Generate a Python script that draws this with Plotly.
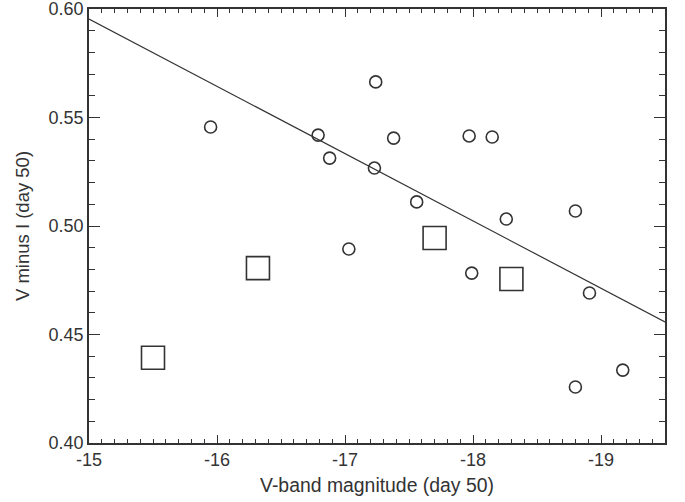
import plotly.graph_objects as go

# Circles (data)
circle_mag = [-15.95, -16.79, -16.88, -17.24, -17.23, -17.38, -17.03, -17.56,
              -17.97, -18.15, -17.99, -18.26, -18.80, -18.91, -18.80, -19.17]
circle_vi = [0.5456, 0.5419, 0.5313, 0.5664, 0.5267, 0.5405, 0.4894, 0.5111,
             0.5415, 0.5410, 0.4783, 0.5032, 0.5069, 0.4691, 0.4258, 0.4336]

# Squares (data)
square_mag = [-15.50, -16.32, -17.70, -18.30]
square_vi = [0.4393, 0.4806, 0.4945, 0.4756]

# Fit line endpoints
fit_mag = [-15.0, -19.5]
fit_vi = [0.5954, 0.4558]

x_tickvals = [-15, -16, -17, -18, -19]
x_ticktext = ["-15", "-16", "-17", "-18", "-19"]
y_tickvals = [0.40, 0.45, 0.50, 0.55, 0.60]
y_ticktext = ["0.40", "0.45", "0.50", "0.55", "0.60"]

ink = "#333333"
fam = "Liberation Sans, Arial, sans-serif"
fig = go.Figure()
fig.add_trace(go.Scatter(x=fit_mag, y=fit_vi, mode="lines",
                         line=dict(color=ink, width=1.2), showlegend=False))
fig.add_trace(go.Scatter(x=circle_mag, y=circle_vi, mode="markers",
                         marker=dict(symbol="circle-open", size=12, color=ink,
                                     line=dict(width=1.6, color=ink)),
                         showlegend=False))
fig.add_trace(go.Scatter(x=square_mag, y=square_vi, mode="markers",
                         marker=dict(symbol="square-open", size=23, color=ink,
                                     line=dict(width=1.6, color=ink)),
                         showlegend=False))

fig.update_layout(
    width=685, height=502,
    margin=dict(l=89, r=20, t=9, b=59),
    paper_bgcolor="white", plot_bgcolor="white",
    font=dict(family=fam, size=18, color=ink),
)
fig.update_xaxes(
    range=[-15, -19.5], showgrid=False, zeroline=False, automargin=False,
    showline=True, linecolor=ink, linewidth=1.5, mirror="ticks",
    ticks="inside", ticklen=8, tickwidth=1.3, tickcolor=ink,
    tickmode="array", tickvals=x_tickvals, ticktext=x_ticktext,
    tickfont=dict(family=fam, size=18, color=ink), ticklabeloverflow="allow",
    minor=dict(ticks="inside", ticklen=4, tickwidth=1.3, tickcolor=ink, dtick=0.1,
               tick0=-15, showgrid=False),
    title=dict(text="V-band magnitude (day 50)", standoff=9,
               font=dict(family=fam, size=19.4, color=ink)),
)
fig.update_yaxes(
    range=[0.40, 0.60], showgrid=False, zeroline=False, automargin=False,
    showline=True, linecolor=ink, linewidth=1.5, mirror="ticks",
    ticks="inside", ticklen=11, tickwidth=1.3, tickcolor=ink,
    tickmode="array", tickvals=y_tickvals, ticktext=y_ticktext,
    tickfont=dict(family=fam, size=18, color=ink), ticklabeloverflow="allow",
    minor=dict(ticks="inside", ticklen=6, tickwidth=1.3, tickcolor=ink, dtick=0.01,
               tick0=0.40, showgrid=False),
    title=dict(text="V minus I (day 50)", standoff=14,
               font=dict(family=fam, size=18.5, color=ink)),
)
fig.write_html("out.html")
